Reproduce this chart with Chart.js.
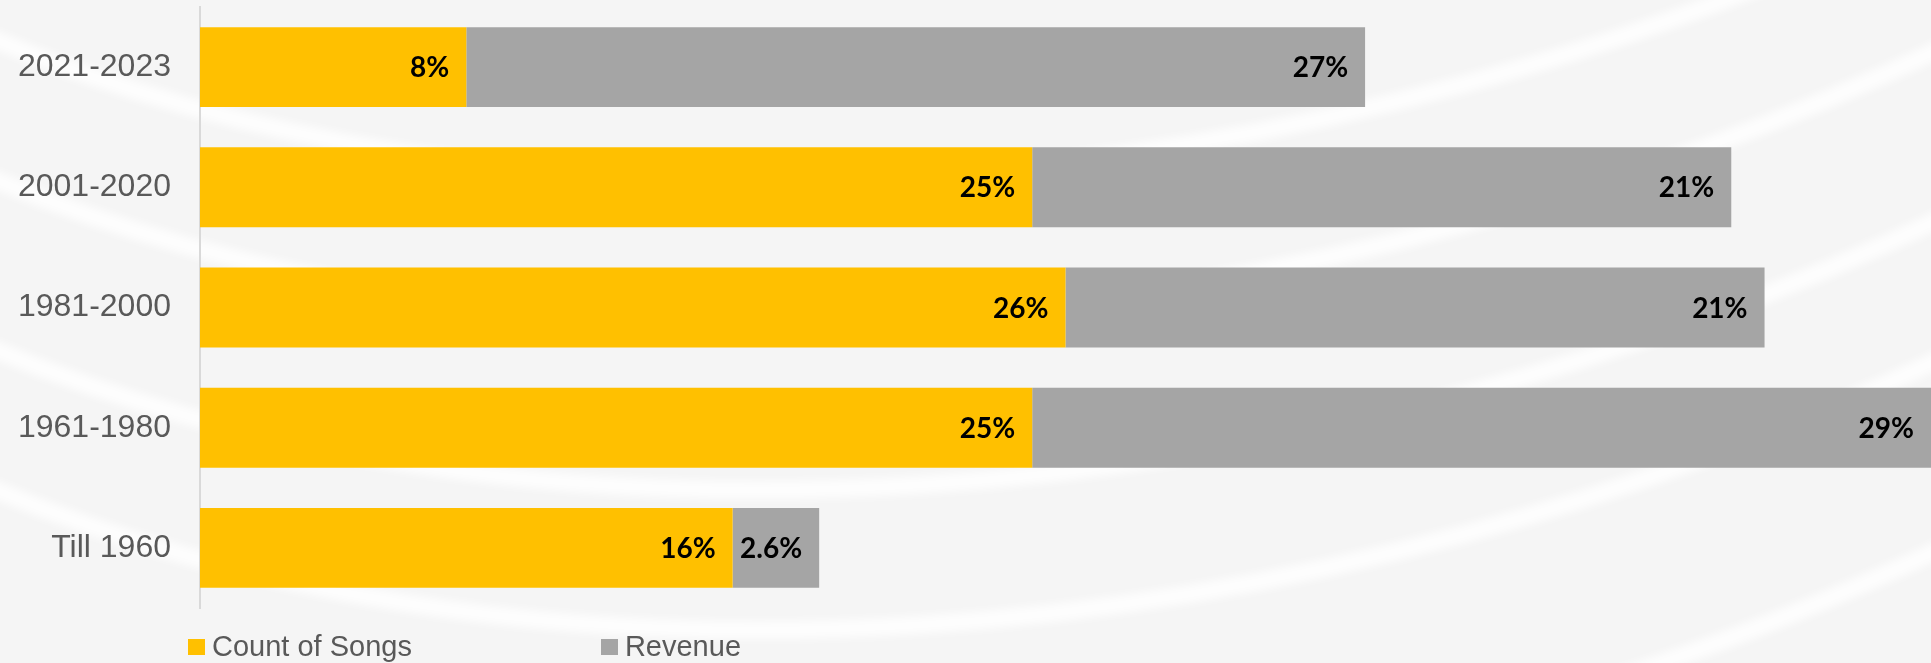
<!DOCTYPE html>
<html>
<head>
<meta charset="utf-8">
<title>Songs and revenue by release period</title>
<script src="https://cdn.jsdelivr.net/npm/chart.js@4.4.1/dist/chart.umd.min.js"></script>
<style>
  html, body { margin: 0; padding: 0; background: #f5f5f5; }
  #wrap { position: relative; width: 1931px; height: 663px; overflow: hidden; }
  #periodChart { display: block; }
  #legend {
    position: absolute; left: 188px; top: 630px; display: flex;
    font-family: "Liberation Sans", Arial, sans-serif; font-size: 29px; color: #595959;
  }
  .legend-item { display: flex; align-items: center; margin-right: 189px; }
  .legend-swatch { width: 17px; height: 16px; margin-right: 7px; }
</style>
</head>
<body>
<div id="wrap">
  <canvas id="periodChart" width="1931" height="663"></canvas>
  <div id="legend"></div>
</div>
<script>
// Share of songs and of revenue per release period (percent)
const periods = ['2021-2023', '2001-2020', '1981-2000', '1961-1980', 'Till 1960'];
const songShare = [8, 25, 26, 25, 16];
const revenueShare = [27, 21, 21, 29, 2.6];
const seriesNames = ['Count of Songs', 'Revenue'];
const seriesColors = ['#FFC000', '#A5A5A5'];

// Slide background: light grey with soft white swooshes (one curve, shifted)
const slideBackground = {
  id: 'slideBackground',
  beforeDraw(chart) {
    const { ctx, width, height } = chart;
    ctx.save();
    ctx.fillStyle = '#f5f5f5';
    ctx.fillRect(0, 0, width, height);
    ctx.filter = 'blur(4px)';
    ctx.strokeStyle = 'rgba(255,255,255,0.8)';
    ctx.lineWidth = 18;
    [-450, -310, -140, 0, 190].forEach(dy => {
      ctx.beginPath();
      ctx.moveTo(-50, 470 + dy);
      ctx.bezierCurveTo(500, 720 + dy, 1300, 680 + dy, 2000, 330 + dy);
      ctx.stroke();
    });
    ctx.restore();
  }
};

// Value labels just inside the end of each segment
const insideEndLabels = {
  id: 'insideEndLabels',
  afterDatasetsDraw(chart) {
    const { ctx, chartArea } = chart;
    ctx.save();
    ctx.font = 'bold 28px Lato';
    ctx.fillStyle = '#000000';
    ctx.textAlign = 'right';
    ctx.textBaseline = 'middle';
    chart.data.datasets.forEach((ds, i) => {
      chart.getDatasetMeta(i).data.forEach((bar, j) => {
        const x = Math.min(bar.x, chartArea.right) - 17;
        ctx.fillText(ds.data[j] + '%', x, bar.y + 1);
      });
    });
    ctx.restore();
  }
};

function renderLegend() {
  const legend = document.getElementById('legend');
  legend.innerHTML = seriesNames.map((name, i) => `
    <div class="legend-item">
      <span class="legend-swatch" style="background:${seriesColors[i]}"></span>
      <span>${name}</span>
    </div>
  `).join('');
}

function renderChart() {
  const ctx = document.getElementById('periodChart').getContext('2d');

  new Chart(ctx, {
    type: 'bar',
    data: {
      labels: periods,
      datasets: [
        { label: seriesNames[0], data: songShare, backgroundColor: seriesColors[0] },
        { label: seriesNames[1], data: revenueShare, backgroundColor: seriesColors[1] }
      ]
    },
    options: {
      indexAxis: 'y',
      responsive: false,
      animation: false,
      devicePixelRatio: 1,
      layout: {
        autoPadding: false,
        padding: { top: 7, bottom: 55, left: 0, right: 0 }
      },
      datasets: {
        bar: { categoryPercentage: 1, barPercentage: 0.665, borderWidth: 0 }
      },
      plugins: {
        legend: { display: false },
        tooltip: { enabled: false }
      },
      scales: {
        x: {
          stacked: true,
          display: false,
          min: 0,
          max: 52
        },
        y: {
          stacked: true,
          grid: { display: false, drawTicks: false },
          border: { display: true, color: '#d9d9d9', width: 2 },
          ticks: {
            padding: 29,
            color: '#595959',
            font: { family: 'Liberation Sans', size: 32 }
          },
          afterFit(scale) {
            // fixed label column; labels sit mid-band so no extra top/bottom room
            scale.width = 200;
            scale.paddingTop = 0;
            scale.paddingBottom = 0;
          }
        }
      }
    },
    plugins: [slideBackground, insideEndLabels]
  });
}

document.addEventListener('DOMContentLoaded', () => {
  renderLegend();
  document.fonts.load('bold 28px Lato').then(renderChart, renderChart);
});
</script>
</body>
</html>
